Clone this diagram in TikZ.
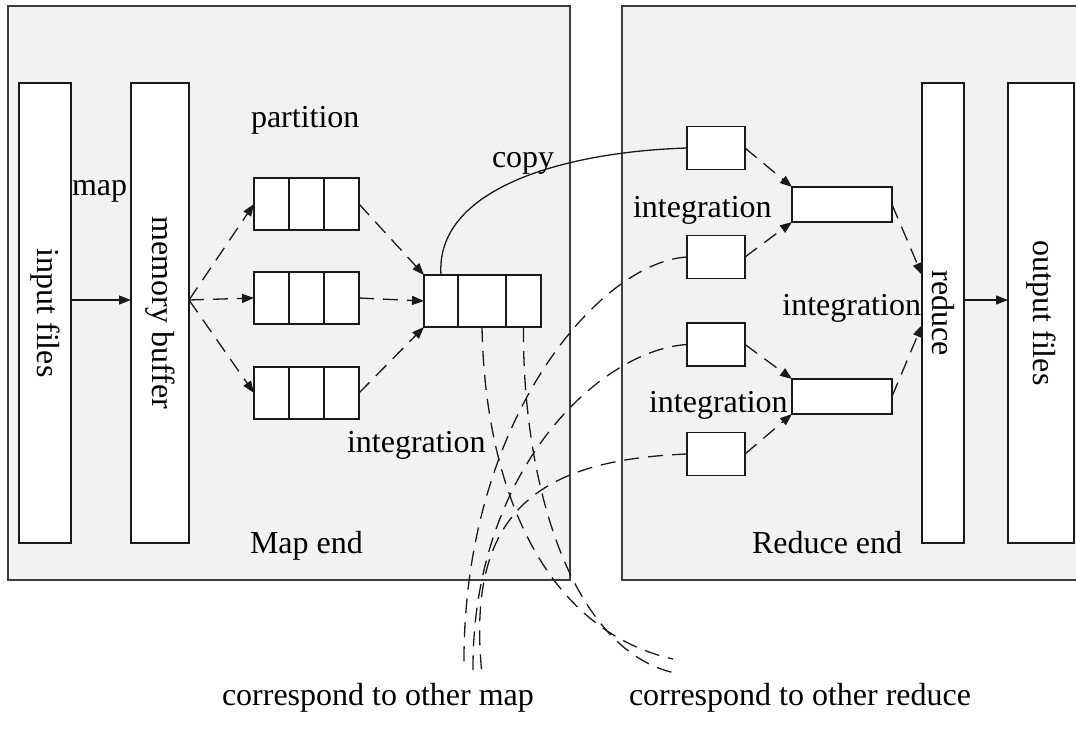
\documentclass[tikz,border=0pt]{standalone}
\usepackage{fontspec}
\setmainfont{Liberation Serif}
\usetikzlibrary{arrows.meta}
\definecolor{panelfill}{HTML}{F2F2F2}
\definecolor{ink}{HTML}{1A1A1A}
\begin{document}
\begin{tikzpicture}[x=1pt,y=-1pt,
  every node/.style={font=\fontsize{32}{38}\selectfont, inner sep=0pt, outer sep=0pt},
  panel/.style={fill=panelfill},
  panelline/.style={draw=ink!85, line width=1.5pt},
  box/.style={draw=ink, fill=white, line width=1.4pt},
  cell/.style={box, minimum width=35pt, minimum height=52pt},
  smallbox/.style={box, minimum width=58pt, minimum height=43pt},
  midbox/.style={box, minimum width=100pt, minimum height=35pt},
  tallbox/.style={box, minimum height=460pt},
  tip/.style={-{Triangle[length=12pt,width=9pt]}},
  link/.style={tip, draw=ink, line width=1.3pt},
  flow/.style={link, dash pattern=on 15pt off 9pt},
  trail/.style={draw=ink, line width=1.3pt, dash pattern=on 15pt off 9pt},
  lbl/.style={anchor=base west}
]
\useasboundingbox (0,0) rectangle (1076,729);

% the two panels
\fill[panel] (8,6) rectangle (570,580);
\draw[panelline] (8,6) rectangle (570,580);
\fill[panel] (622,6) rectangle (1076,580);
\draw[panelline] (1080,6) -- (622,6) -- (622,580) -- (1080,580);

% helper heights
\coordinate (y275) at (0,275);
\coordinate (y300) at (0,300);
\coordinate (y325) at (0,325);

% map side
\node[tallbox, minimum width=52pt] (in) at (45,313) {};
\node[tallbox, minimum width=58pt] (mb) at (160,313) {};
\node[rotate=-90] (inlbl) at (in.center) {input files};
\node[rotate=-90] (mblbl) at (mb.center) {memory buffer};

% partitions
\foreach \r/\yy in {1/204, 2/298, 3/393} {
  \node[cell] (p\r a) at (271.5,\yy) {};
  \node[cell] (p\r b) at (306.5,\yy) {};
  \node[cell] (p\r c) at (341.5,\yy) {};
}

% merged spill
\node[box, minimum width=34pt, minimum height=52pt] (m1) at (441,301) {};
\node[box, minimum width=48pt, minimum height=52pt] (m2) at (482,301) {};
\node[box, minimum width=35pt, minimum height=52pt] (m3) at (523.5,301) {};

% reduce side
\node[smallbox] (r1) at (716,148) {};
\node[smallbox] (r2) at (716,257) {};
\node[smallbox] (r3) at (716,344.5) {};
\node[smallbox] (r4) at (716,454) {};
\node[midbox] (ma) at (842,204.5) {};
\node[midbox] (mbb) at (842,396.5) {};
\node[tallbox, minimum width=42pt] (red) at (943,313) {};
\node[tallbox, minimum width=66pt] (out) at (1041,313) {};
\node[rotate=-90] (redlbl) at (red.center) {reduce};
\node[rotate=-90] (outlbl) at (out.center) {output files};

% connectors on the map side
\coordinate (fan) at (mb.east |- y300);
\draw[link] (in.east |- y300) -- (mb.west |- y300);
\draw[flow] (fan) -- (p1a.west);
\draw[flow] (fan) -- (p2a.west);
\draw[flow] (fan) -- (p3a.west);
\draw[flow] (p1c.east) -- (m1.north west);
\draw[flow] (p2c.east) -- (m1.west);
\draw[flow] (p3c.east) -- (m1.south west);

% connectors on the reduce side
\draw[flow] (r1.east) -- (ma.north west);
\draw[flow] (r2.east) -- (ma.south west);
\draw[flow] (r3.east) -- (mbb.north west);
\draw[flow] (r4.east) -- (mbb.south west);
\draw[flow] (ma.east) -- (red.west |- y275);
\draw[flow] (mbb.east) -- (red.west |- y325);
\draw[link] (red.east |- y300) -- (out.west |- y300);

% copy
\draw[draw=ink, line width=1.3pt] (m1.north) .. controls (435,190) and (560,152) .. (r1.west);

% fetches from and to other tasks
\coordinate (e1) at (464,666);
\coordinate (e2) at (473,670);
\coordinate (e3) at (482,674);
\coordinate (f1) at (673,659);
\coordinate (f2) at (675,673);
\draw[trail] (r2.west) .. controls (600,262) and (462,420) .. (e1);
\draw[trail] (r3.west) .. controls (600,350) and (472,470) .. (e2);
\draw[trail] (r4.west) .. controls (540,460) and (465,510) .. (e3);
\draw[trail] (m2.south) .. controls (485,490) and (545,630) .. (f1);
\draw[trail] (m3.south) .. controls (522,480) and (570,650) .. (f2);

% labels
\node[lbl] (tmap) at (72,195) {map};
\node[lbl] (tpart) at (251,127) {partition};
\node[lbl] (tcopy) at (492,167) {copy};
\node[lbl] (tint0) at (347,452) {integration};
\node[lbl] (tint1) at (633,217) {integration};
\node[lbl] (tint2) at (649,412) {integration};
\node[anchor=base east] (tint3) at (921,315) {integration};
\node[lbl] (tmapend) at (250,553) {Map end};
\node[lbl] (tredend) at (752,553) {Reduce end};
\node[lbl] (tothmap) at (222,705) {correspond to other map};
\node[lbl] (tothred) at (629,705) {correspond to other reduce};
\end{tikzpicture}
\end{document}
